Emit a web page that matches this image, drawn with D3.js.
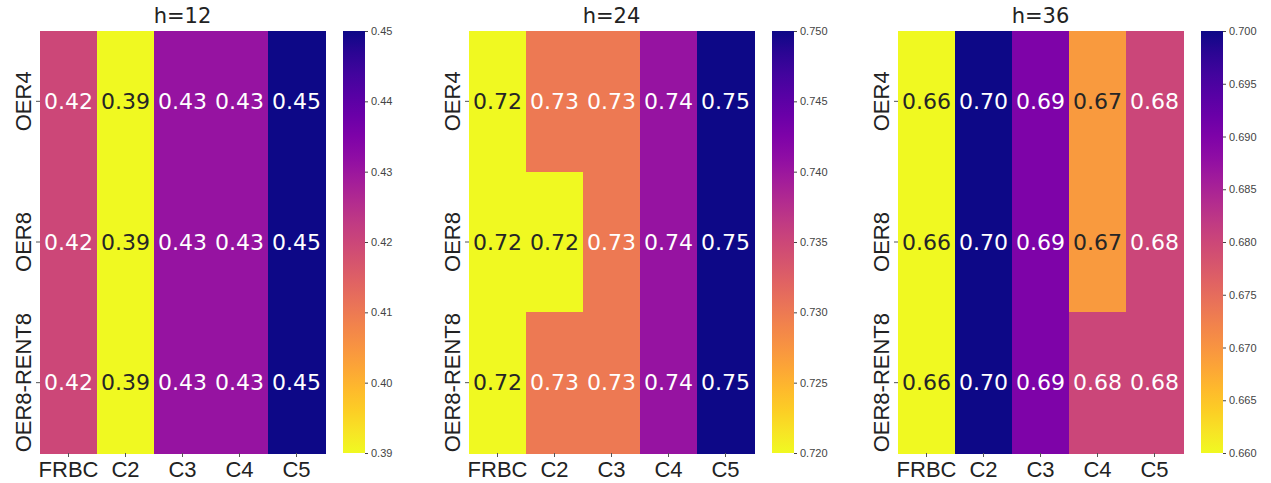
<!DOCTYPE html>
<html>
<head>
<meta charset="utf-8">
<script src="https://cdn.jsdelivr.net/npm/d3@7"></script>
<style>
  body { margin: 0; background: #fff; }
  svg { font-family: "DejaVu Sans", sans-serif; }
  .cbar-axis text { fill: #444; font-size: 11px; }
  .cbar-axis line { stroke: #444; }
</style>
</head>
<body>
<div id="chart"></div>
<script>
// categories
const models = ["FRBC", "C2", "C3", "C4", "C5"]
const specs = ["OER4", "OER8", "OER8-RENT8"]
const horizons = ["h=12", "h=24", "h=36"]

// values per horizon (rows = specs, cols = models)
const h12 = [
  [0.420, 0.390, 0.431, 0.431, 0.450],
  [0.420, 0.390, 0.431, 0.431, 0.450],
  [0.420, 0.390, 0.431, 0.431, 0.450]
]
const h24 = [
  [0.720, 0.730, 0.730, 0.7405, 0.750],
  [0.720, 0.720, 0.730, 0.7405, 0.750],
  [0.720, 0.730, 0.730, 0.7405, 0.750]
]
const h36 = [
  [0.660, 0.700, 0.690, 0.6695, 0.680],
  [0.660, 0.700, 0.690, 0.6695, 0.680],
  [0.660, 0.700, 0.690, 0.680, 0.680]
]

// colorbar ranges and tick labels
const h12Ticks = [0.39, 0.40, 0.41, 0.42, 0.43, 0.44, 0.45]
const h24Ticks = [0.720, 0.725, 0.730, 0.735, 0.740, 0.745, 0.750]
const h36Ticks = [0.660, 0.665, 0.670, 0.675, 0.680, 0.685, 0.690, 0.695, 0.700]

const panels = [
  {title: horizons[0], data: h12, ticks: h12Ticks, fmt: ".2f"},
  {title: horizons[1], data: h24, ticks: h24Ticks, fmt: ".3f"},
  {title: horizons[2], data: h36, ticks: h36Ticks, fmt: ".3f"}
]

const W = 1271, H = 483
const topY = 31, hmH = 422, hmW = 285
const lefts = [40, 469, 898]
const cbGap = 303, cbW = 22

const svg = d3.select("#chart").append("svg")
  .attr("width", W).attr("height", H)

// seaborn style annotation colour choice
function lum(c) {
  const rgb = d3.rgb(c)
  const f = v => {
    v = v / 255
    return v <= 0.03928 ? v / 12.92 : Math.pow((v + 0.055) / 1.055, 2.4)
  }
  return 0.2126 * f(rgb.r) + 0.7152 * f(rgb.g) + 0.0722 * f(rgb.b)
}

panels.forEach(function (p, pi) {
  const g = svg.append("g").attr("transform", `translate(${lefts[pi]},${topY})`)
  const lo = p.ticks[0], hi = p.ticks[p.ticks.length - 1]
  const color = d3.scaleSequential(t => d3.interpolatePlasma(1 - t)).domain([lo, hi])

  const x = d3.scaleBand().domain(models).range([0, hmW])
  const y = d3.scaleBand().domain(specs).range([0, hmH])

  const cells = []
  p.data.forEach((row, ri) => row.forEach((v, ci) => {
    cells.push({spec: specs[ri], model: models[ci], value: v})
  }))

  g.append("g").selectAll("rect")
    .data(cells)
    .enter()
    .append("rect")
    .attr("x", d => x(d.model))
    .attr("y", d => y(d.spec))
    .attr("width", x.bandwidth() + 1)
    .attr("height", y.bandwidth() + 1)
    .attr("shape-rendering", "crispEdges")
    .attr("fill", d => color(d.value))

  g.append("g").selectAll("text")
    .data(cells)
    .enter()
    .append("text")
    .attr("x", d => x(d.model) + x.bandwidth() / 2)
    .attr("y", d => y(d.spec) + y.bandwidth() / 2)
    .attr("text-anchor", "middle")
    .attr("dominant-baseline", "central")
    .attr("font-size", 22)
    .attr("fill", d => lum(color(d.value)) > 0.408 ? "#262626" : "#fff")
    .text(d => d3.format(".2f")(d.value))

  // x axis
  const xa = g.append("g")
    .attr("transform", `translate(0,${hmH})`)
    .call(d3.axisBottom(x).tickSize(4).tickPadding(4))
  xa.select(".domain").remove()
  xa.selectAll("text").attr("font-size", 22).attr("fill", "#222")
  xa.selectAll("line").attr("stroke", "#555")

  // y axis
  const ya = g.append("g")
    .call(d3.axisLeft(y).tickSize(4).tickPadding(3))
  ya.select(".domain").remove()
  ya.selectAll("line").attr("stroke", "#555")
  ya.selectAll("text")
    .attr("font-size", 22)
    .attr("fill", "#222")
    .attr("text-anchor", "middle")
    .attr("dy", 0)
    .attr("x", 0)
    .attr("transform", "translate(-9,0) rotate(-90)")

  g.append("text")
    .attr("x", hmW / 2)
    .attr("y", -8)
    .attr("text-anchor", "middle")
    .attr("font-size", 21)
    .attr("fill", "#222")
    .text(p.title)

  // colorbar
  const gradId = "grad" + pi
  const grad = svg.append("defs").append("linearGradient")
    .attr("id", gradId)
    .attr("x1", 0).attr("y1", 1).attr("x2", 0).attr("y2", 0)
  d3.range(0, 1.0001, 0.05).forEach(t => {
    grad.append("stop")
      .attr("offset", t)
      .attr("stop-color", color(lo + t * (hi - lo)))
  })
  const cb = g.append("g").attr("transform", `translate(${cbGap},0)`)
  cb.append("rect")
    .attr("width", cbW)
    .attr("height", hmH)
    .attr("fill", `url(#${gradId})`)
  const cy = d3.scaleLinear().domain([lo, hi]).range([hmH, 0])
  const ca = cb.append("g")
    .attr("class", "cbar-axis")
    .attr("transform", `translate(${cbW},0)`)
    .call(d3.axisRight(cy).tickValues(p.ticks).tickFormat(d3.format(p.fmt)).tickSize(3).tickPadding(3))
  ca.select(".domain").remove()
})
</script>
</body>
</html>
